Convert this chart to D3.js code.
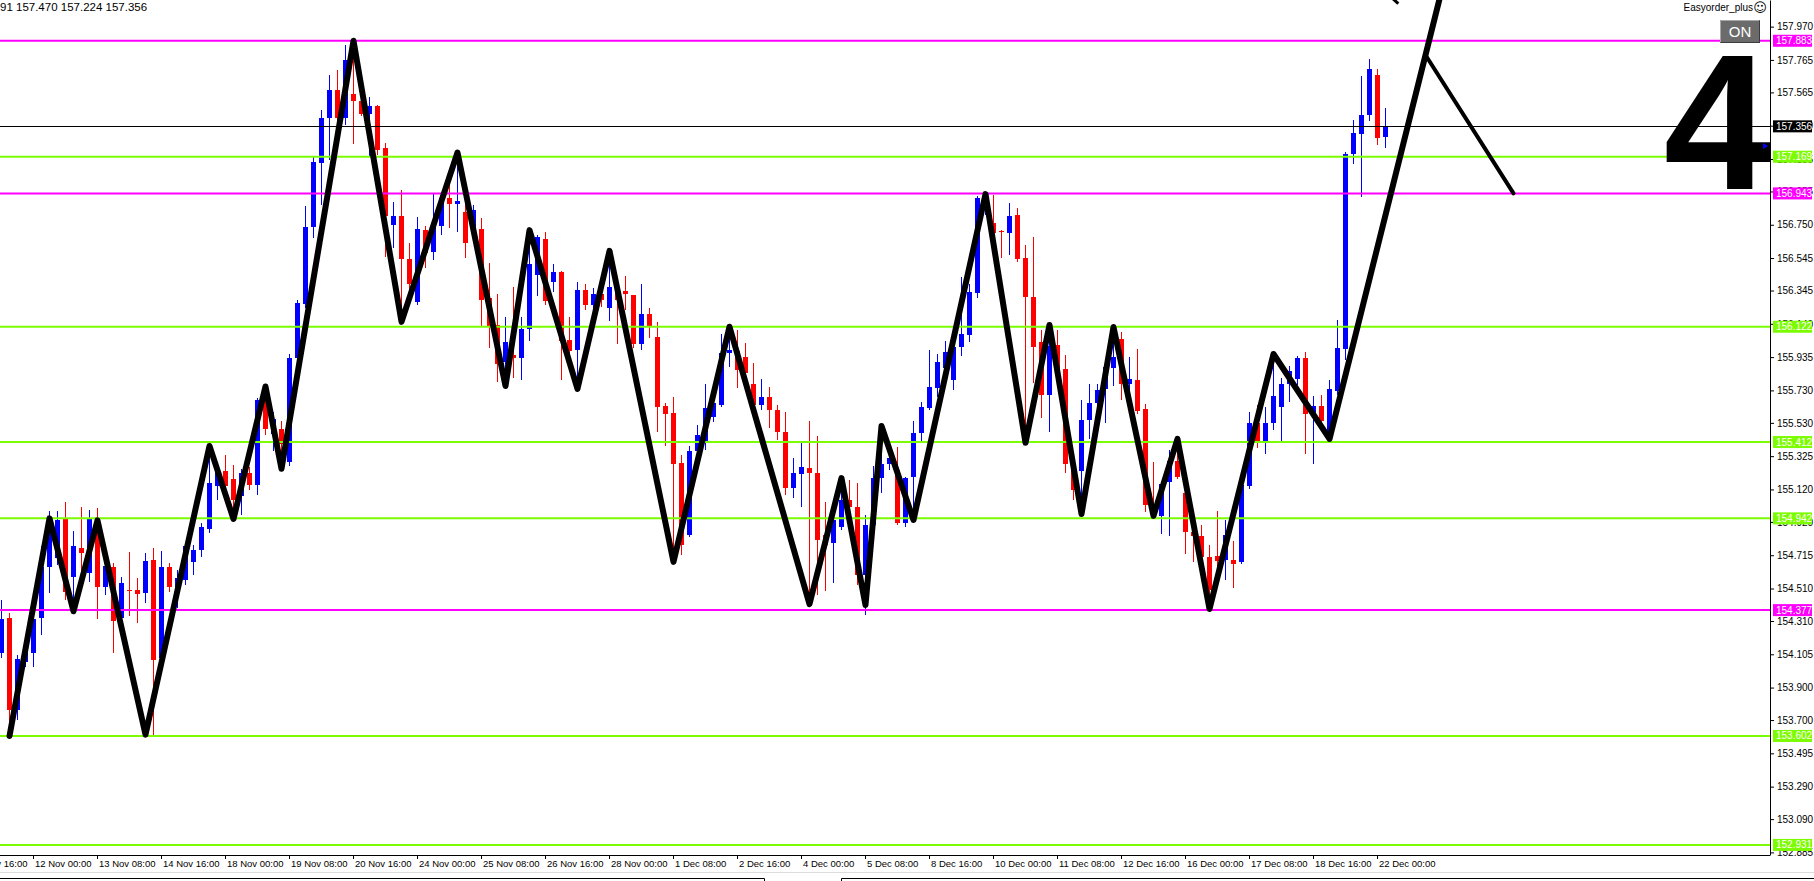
<!DOCTYPE html>
<html>
<head>
<meta charset="utf-8">
<script src="https://cdn.jsdelivr.net/npm/d3@7"></script>
<style>
    html, body { margin: 0; padding: 0; background: #fff; overflow: hidden; }
    text { font-family: 'Liberation Sans', Arial, sans-serif; }
</style>
</head>
<body>
<div id="chart"></div>
<script>
// H4 candles, oldest first
const open = [154.114, 154.329, 153.762, 154.058, 154.114, 154.329, 154.643, 154.698, 154.939, 154.581,
    154.760, 154.606, 154.939, 154.520, 154.643, 154.329, 154.501, 154.501, 154.483, 154.686,
    154.083, 154.643, 154.520, 154.563, 154.674, 154.747, 154.877, 155.141, 155.234, 155.185,
    155.080, 155.222, 155.147, 155.671, 155.461, 155.493, 155.290, 155.930, 156.262, 156.736,
    157.131, 157.408, 157.580, 157.408, 157.555, 157.512, 157.432, 157.481, 157.223, 156.748,
    156.804, 156.540, 156.275, 156.718, 156.583, 156.742, 156.915, 156.877, 156.829, 156.718,
    156.724, 156.299, 156.133, 155.905, 155.948, 155.930, 156.109, 156.440, 156.663, 156.398,
    156.459, 156.040, 155.979, 156.348, 156.256, 156.323, 156.238, 156.348, 156.342, 156.317,
    156.015, 156.200, 156.059, 155.634, 155.590, 155.284, 154.839, 155.357, 155.406, 155.566,
    155.640, 155.960, 155.973, 155.936, 155.769, 155.640, 155.690, 155.609, 155.474, 155.129,
    155.215, 155.253, 155.222, 154.839, 154.790, 154.889, 155.055, 155.012, 154.593, 154.901,
    155.190, 155.277, 155.240, 154.914, 155.197, 155.468, 155.622, 155.745, 155.868, 155.794,
    155.997, 156.071, 156.330, 156.871, 156.761, 156.711, 156.699, 156.810, 156.546, 156.305,
    156.028, 155.702, 156.009, 155.862, 155.277, 155.234, 155.548, 155.653, 155.739, 155.868,
    156.046, 155.769, 155.794, 155.615, 155.024, 154.957, 155.166, 155.296, 155.098, 154.858,
    154.833, 154.704, 154.710, 154.686, 154.686, 154.674, 155.141, 155.529, 155.419, 155.529,
    155.628, 155.769, 155.800, 155.930, 155.584, 155.634, 155.431, 155.726, 155.985, 157.186,
    157.309, 157.426, 157.672, 157.291];

const high = [154.439, 154.360, 154.101, 154.162, 154.335, 154.772, 154.988, 154.988, 155.043, 154.864,
    155.012, 154.994, 155.006, 154.674, 154.668, 154.581, 154.735, 154.575, 154.729, 154.760,
    154.741, 154.668, 154.624, 154.778, 154.778, 154.914, 155.388, 155.271, 155.332, 155.271,
    155.247, 155.259, 155.684, 155.757, 155.597, 155.542, 155.954, 156.287, 156.865, 157.173,
    157.457, 157.672, 157.703, 157.857, 157.883, 157.518, 157.537, 157.487, 157.254, 156.890,
    156.964, 156.638, 156.798, 156.742, 156.939, 156.939, 157.087, 157.198, 156.983, 156.871,
    156.792, 156.515, 156.323, 156.182, 156.367, 156.182, 156.718, 156.687, 156.706, 156.508,
    156.465, 156.182, 156.398, 156.385, 156.361, 156.367, 156.589, 156.410, 156.435, 156.320,
    156.385, 156.238, 156.152, 155.653, 155.690, 155.332, 155.388, 155.517, 155.769, 155.714,
    156.077, 156.121, 156.102, 156.022, 155.899, 155.800, 155.751, 155.640, 155.597, 155.314,
    155.406, 155.542, 155.449, 155.043, 154.963, 155.190, 155.178, 155.160, 154.963, 155.265,
    155.511, 155.332, 155.382, 155.197, 155.542, 155.659, 155.979, 155.954, 156.034, 156.028,
    156.428, 156.385, 156.927, 156.939, 156.933, 156.718, 156.884, 156.853, 156.625, 156.675,
    156.102, 156.133, 156.102, 155.948, 155.302, 155.671, 155.769, 155.769, 155.911, 156.121,
    156.090, 155.936, 155.985, 155.646, 155.289, 155.166, 155.363, 155.431, 155.178, 154.981,
    154.901, 154.778, 154.988, 154.932, 154.803, 155.154, 155.597, 155.640, 155.628, 155.954,
    155.807, 155.880, 155.942, 155.967, 155.696, 155.702, 155.794, 156.164, 157.198, 157.395,
    157.666, 157.771, 157.709, 157.470];

const low = [154.083, 153.602, 153.701, 154.027, 154.027, 154.224, 154.483, 154.655, 154.439, 154.366,
    154.612, 154.551, 154.323, 154.470, 154.114, 154.285, 154.341, 154.298, 154.421, 153.608,
    154.039, 154.489, 154.390, 154.532, 154.593, 154.704, 154.852, 155.055, 155.117, 154.939,
    154.963, 155.117, 155.086, 155.455, 155.357, 155.247, 155.265, 155.905, 156.238, 156.669,
    156.871, 157.149, 157.303, 157.364, 157.247, 157.420, 157.167, 157.179, 156.552, 156.607,
    156.152, 156.348, 156.256, 156.484, 156.533, 156.687, 156.730, 156.706, 156.546, 156.656,
    156.127, 155.991, 155.782, 155.757, 155.807, 155.794, 156.034, 156.311, 156.256, 156.336,
    155.794, 155.917, 155.739, 156.225, 156.213, 156.244, 156.158, 156.015, 156.225, 155.991,
    155.979, 156.053, 155.474, 155.388, 154.674, 154.716, 154.827, 155.332, 155.363, 155.536,
    155.628, 155.874, 155.745, 155.794, 155.609, 155.609, 155.498, 155.425, 155.086, 155.067,
    155.012, 154.414, 154.470, 154.495, 154.545, 154.870, 154.975, 154.532, 154.347, 154.870,
    155.098, 155.240, 154.901, 154.889, 154.932, 155.406, 155.609, 155.690, 155.825, 155.733,
    155.942, 156.028, 156.299, 156.810, 156.656, 156.546, 156.564, 156.521, 155.406, 155.776,
    155.560, 155.474, 155.794, 155.222, 155.055, 154.969, 155.431, 155.529, 155.529, 155.757,
    155.671, 155.733, 155.584, 154.981, 154.944, 154.846, 154.833, 155.185, 154.723, 154.674,
    154.606, 154.384, 154.593, 154.563, 154.514, 154.661, 155.123, 155.375, 155.338, 155.486,
    155.419, 155.659, 155.763, 155.338, 155.277, 155.529, 155.419, 155.702, 155.917, 157.124,
    156.921, 157.389, 157.241, 157.224];

const close = [154.323, 153.762, 154.077, 154.144, 154.323, 154.643, 154.932, 154.932, 154.489, 154.772,
    154.729, 154.939, 154.520, 154.649, 154.310, 154.545, 154.495, 154.476, 154.680, 154.070,
    154.643, 154.520, 154.575, 154.772, 154.747, 154.889, 155.160, 155.234, 155.141, 155.055,
    155.222, 155.147, 155.671, 155.493, 155.554, 155.400, 155.930, 156.269, 156.736, 157.137,
    157.408, 157.580, 157.408, 157.765, 157.512, 157.432, 157.481, 157.210, 156.804, 156.804,
    156.540, 156.385, 156.724, 156.577, 156.742, 156.915, 156.877, 156.896, 156.638, 156.841,
    156.287, 156.127, 155.892, 156.028, 155.930, 156.109, 156.508, 156.675, 156.281, 156.459,
    156.034, 155.973, 156.348, 156.256, 156.323, 156.287, 156.367, 156.287, 156.323, 156.015,
    156.200, 156.127, 155.628, 155.584, 155.277, 154.778, 155.357, 155.455, 155.622, 155.653,
    155.960, 155.979, 155.856, 155.837, 155.640, 155.690, 155.609, 155.474, 155.129, 155.222,
    155.259, 155.222, 154.809, 154.778, 154.932, 155.055, 155.012, 154.593, 154.901, 155.190,
    155.277, 155.314, 154.914, 155.190, 155.468, 155.628, 155.751, 155.905, 155.967, 155.997,
    156.077, 156.336, 156.915, 156.915, 156.699, 156.705, 156.804, 156.540, 156.305, 155.997,
    155.702, 156.003, 155.843, 155.277, 155.117, 155.548, 155.653, 155.733, 155.874, 155.936,
    155.769, 155.800, 155.603, 155.024, 154.969, 155.154, 155.296, 155.197, 154.858, 154.833,
    154.704, 154.501, 154.680, 154.839, 154.661, 155.147, 155.529, 155.419, 155.529, 155.696,
    155.769, 155.850, 155.930, 155.584, 155.634, 155.542, 155.739, 155.991, 157.186, 157.315,
    157.426, 157.709, 157.284, 157.356];

// zigzag turning points (bar index, price)
const zzBar = [1, 6, 9, 12, 18, 26, 29, 33, 35, 44, 50, 57, 63, 66, 72, 76, 84, 91, 101, 105,
    108, 110, 114, 123, 128, 131, 135, 139, 144, 147, 151, 159, 166, 181];
const zzPrice = [153.602, 154.942, 154.370, 154.930, 153.610, 155.388, 154.938, 155.754, 155.247, 157.883,
    156.152, 157.195, 155.757, 156.717, 155.739, 156.589, 154.674, 156.122, 154.414, 155.190,
    154.408, 155.511, 154.932, 156.939, 155.407, 156.133, 154.969, 156.120, 154.957, 155.431,
    154.384, 155.954, 155.431, 158.386];
const projBar = [178, 189];
const projPrice = [157.795, 156.943];
const stubBar = [173.4, 174.6];
const stubPrice = [158.165, 158.112];

const magentaLevels = [157.883, 156.943, 154.377];
const greenLevels = [157.169, 156.122, 155.412, 154.942, 153.602, 152.931];
const bidPrice = 157.356;
const markerPrice = 157.235;

const priceTicks = [157.970, 157.765, 157.565, 157.360, 157.155, 156.955, 156.750, 156.545, 156.345,
    156.140, 155.935, 155.730, 155.530, 155.325, 155.120, 154.920, 154.715, 154.510, 154.310,
    154.105, 153.900, 153.700, 153.495, 153.290, 153.090, 152.885];

const timeBars = [-4, 4, 12, 20, 28, 36, 44, 52, 60, 68, 76, 84, 92, 100, 108, 116, 124, 132, 140,
    148, 156, 164, 172];
const timeLabels = ['10 Nov 16:00', '12 Nov 00:00', '13 Nov 08:00', '14 Nov 16:00', '18 Nov 00:00',
    '19 Nov 08:00', '20 Nov 16:00', '24 Nov 00:00', '25 Nov 08:00', '26 Nov 16:00', '28 Nov 00:00',
    '1 Dec 08:00', '2 Dec 16:00', '4 Dec 00:00', '5 Dec 08:00', '8 Dec 16:00', '10 Dec 00:00',
    '11 Dec 08:00', '12 Dec 16:00', '16 Dec 00:00', '17 Dec 08:00', '18 Dec 16:00', '22 Dec 00:00'];

const lastBar = { o: 157.291, h: 157.470, l: 157.224, c: 157.356 };

const width = 1814, height = 881;
const plotW = 1770, plotH = 855;
const bullColor = '#0000ff', bearColor = '#ff0000';
const magenta = '#ff00ff', green = '#7cfc00';

const svg = d3
    .select('#chart')
    .append('svg')
    .attr('width', width)
    .attr('height', height);

svg.append('defs')
    .append('clipPath')
    .attr('id', 'plotClip')
    .append('rect')
    .attr('width', plotW)
    .attr('height', plotH);

const x = d3.scaleLinear()
    .domain([0, 173])
    .range([1, 1385]);

const y = d3.scaleLinear()
    .domain([152.869, 158.134])
    .range([plotH, 0]);

const plot = svg.append('g').attr('clip-path', 'url(#plotClip)');

const bars = open.map((o, i) => ({ i: i, o: o, h: high[i], l: low[i], c: close[i] }));
const candleColor = d => d.c >= d.o ? bullColor : bearColor;

plot.selectAll('.wick')
    .data(bars)
    .join('rect')
    .attr('class', 'wick')
    .attr('shape-rendering', 'crispEdges')
    .attr('x', d => x(d.i))
    .attr('y', d => y(d.h))
    .attr('width', 1)
    .attr('height', d => Math.max(1, y(d.l) - y(d.h)))
    .attr('fill', candleColor);

plot.selectAll('.body')
    .data(bars)
    .join('rect')
    .attr('class', 'body')
    .attr('shape-rendering', 'crispEdges')
    .attr('x', d => x(d.i) - 2)
    .attr('y', d => y(Math.max(d.o, d.c)))
    .attr('width', 5)
    .attr('height', d => Math.max(1, Math.abs(y(d.o) - y(d.c))))
    .attr('fill', candleColor);

// horizontal levels
plot.selectAll('.magentaLine')
    .data(magentaLevels)
    .join('line')
    .attr('x1', 0)
    .attr('x2', plotW)
    .attr('y1', d => y(d))
    .attr('y2', d => y(d))
    .attr('stroke', magenta)
    .attr('stroke-width', 2);

plot.selectAll('.greenLine')
    .data(greenLevels)
    .join('line')
    .attr('x1', 0)
    .attr('x2', plotW)
    .attr('y1', d => y(d))
    .attr('y2', d => y(d))
    .attr('stroke', green)
    .attr('stroke-width', 2);

plot.append('line')
    .attr('x1', 0)
    .attr('x2', plotW)
    .attr('y1', Math.round(y(bidPrice)) + 0.5)
    .attr('y2', Math.round(y(bidPrice)) + 0.5)
    .attr('stroke', '#000')
    .attr('stroke-width', 1);

// zigzag
const zzLine = d3.line()
    .x(d => x(d[0]) + 0.5)
    .y(d => y(d[1]));

plot.append('path')
    .attr('d', zzLine(zzBar.map((b, i) => [b, zzPrice[i]])))
    .attr('fill', 'none')
    .attr('stroke', '#000')
    .attr('stroke-width', 6)
    .attr('stroke-linejoin', 'round')
    .attr('stroke-linecap', 'round');

plot.append('path')
    .attr('d', zzLine(projBar.map((b, i) => [b, projPrice[i]])))
    .attr('fill', 'none')
    .attr('stroke', '#000')
    .attr('stroke-width', 4)
    .attr('stroke-linecap', 'round');

plot.append('path')
    .attr('d', zzLine(stubBar.map((b, i) => [b, stubPrice[i]])))
    .attr('fill', 'none')
    .attr('stroke', '#000')
    .attr('stroke-width', 3);

// big counter digit, button and labels
svg.append('text')
    .attr('x', 1771)
    .attr('y', 189)
    .attr('text-anchor', 'end')
    .style('font-size', '193px')
    .style('font-weight', 'bold')
    .text('4');

svg.append('text')
    .attr('x', 1753)
    .attr('y', 11)
    .attr('text-anchor', 'end')
    .style('font-size', '10px')
    .text('Easyorder_plus');

svg.append('text')
    .attr('x', 1760)
    .attr('y', 12)
    .attr('text-anchor', 'middle')
    .style('font-family', 'DejaVu Sans')
    .style('font-size', '13px')
    .text('\u263A');

const btn = svg.append('g').attr('transform', 'translate(1720,20)');
btn.append('rect')
    .attr('width', 40)
    .attr('height', 23)
    .attr('fill', '#6b6b6b');
btn.append('path')
    .attr('d', 'M0.5,22.5V0.5H39.5')
    .attr('fill', 'none')
    .attr('stroke', '#a8a8a8');
btn.append('path')
    .attr('d', 'M0.5,22.5H39.5V0.5')
    .attr('fill', 'none')
    .attr('stroke', '#3c3c3c');
btn.append('text')
    .attr('x', 20)
    .attr('y', 17)
    .attr('text-anchor', 'middle')
    .attr('fill', '#fff')
    .style('font-size', '15px')
    .text('ON');

svg.append('text')
    .attr('x', 0)
    .attr('y', 11)
    .style('font-size', '11.5px')
    .text(String(lastBar.o.toFixed(3)).slice(-2) + ' ' + lastBar.h.toFixed(3) + ' ' +
        lastBar.l.toFixed(3) + ' ' + lastBar.c.toFixed(3));

svg.append('path')
    .attr('d', 'M0,-3L5,0L0,3Z')
    .attr('transform', 'translate(1763,' + y(markerPrice) + ')')
    .attr('fill', '#0000ff');

// price axis
svg.append('g')
    .attr('class', 'y axis')
    .attr('transform', 'translate(' + plotW + ',0)')
    .call(d3.axisRight(y).tickValues(priceTicks).tickSize(4).tickSizeOuter(0).tickFormat(d3.format('.3f')))
    .call(g => g.attr('font-family', null).attr('font-size', null))
    .selectAll('text')
    .attr('x', 7)
    .style('font-size', '10px');

const tags = magentaLevels.map(p => ({ p: p, color: magenta }))
    .concat(greenLevels.map(p => ({ p: p, color: green })))
    .concat([{ p: bidPrice, color: '#000' }]);

const tag = svg.selectAll('.tag')
    .data(tags)
    .join('g')
    .attr('class', 'tag')
    .attr('transform', d => 'translate(1773,' + y(d.p) + ')');

tag.append('rect')
    .attr('y', -6)
    .attr('width', 39)
    .attr('height', 12)
    .attr('fill', d => d.color);

tag.append('text')
    .attr('x', 3)
    .attr('dy', '0.35em')
    .attr('fill', '#fff')
    .style('font-size', '10px')
    .text(d => d3.format('.3f')(d.p));

// time axis
svg.append('g')
    .attr('class', 'x axis')
    .attr('transform', 'translate(0,' + plotH + ')')
    .call(d3.axisBottom(x).tickValues(timeBars).tickSize(4).tickSizeOuter(0).tickFormat((d, i) => timeLabels[i]))
    .call(g => g.attr('font-family', null).attr('font-size', null))
    .call(g => g.select('.domain').remove())
    .selectAll('text')
    .attr('text-anchor', 'start')
    .attr('x', 1.5)
    .attr('y', 5)
    .style('font-size', '9.5px');

svg.append('line')
    .attr('x1', 0)
    .attr('x2', plotW)
    .attr('y1', plotH + 0.5)
    .attr('y2', plotH + 0.5)
    .attr('stroke', '#000');

// tab strip at the bottom
svg.append('line')
    .attr('x1', 0)
    .attr('x2', width)
    .attr('y1', 872.5)
    .attr('y2', 872.5)
    .attr('stroke', '#dcdcdc');
svg.append('path')
    .attr('d', 'M0,878.5H764.5V881M841.5,881V878.5H' + width)
    .attr('fill', 'none')
    .attr('stroke', '#000');
</script>
</body>
</html>
